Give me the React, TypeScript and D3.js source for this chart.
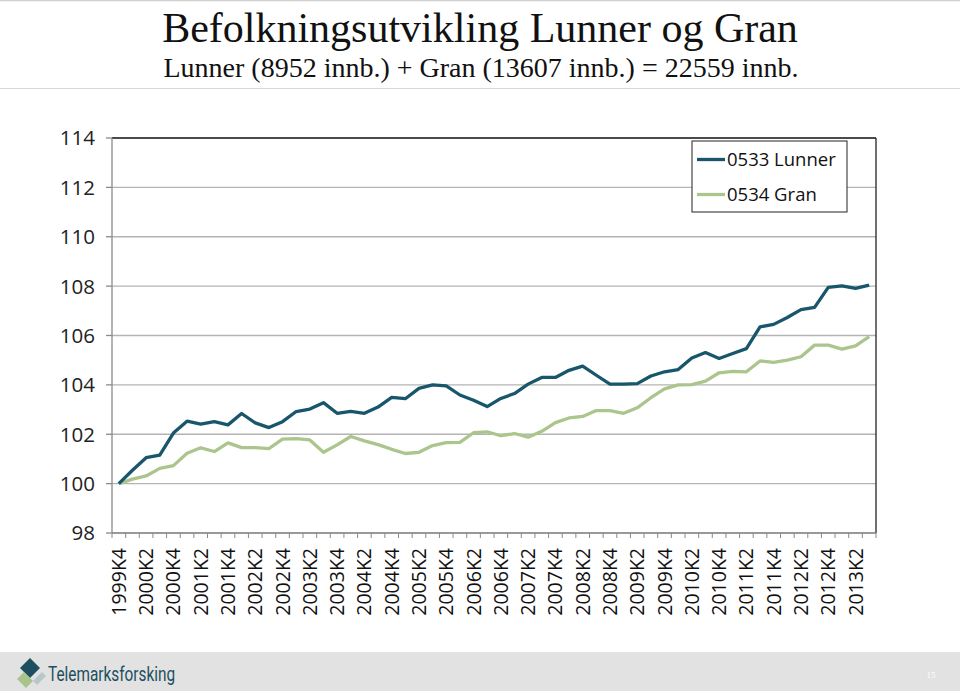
import React from "react";
import * as d3 from "d3";

const categories = [
  "1999K4","2000K1","2000K2","2000K3","2000K4","2001K1","2001K2","2001K3","2001K4",
  "2002K1","2002K2","2002K3","2002K4","2003K1","2003K2","2003K3","2003K4",
  "2004K1","2004K2","2004K3","2004K4","2005K1","2005K2","2005K3","2005K4",
  "2006K1","2006K2","2006K3","2006K4","2007K1","2007K2","2007K3","2007K4",
  "2008K1","2008K2","2008K3","2008K4","2009K1","2009K2","2009K3","2009K4",
  "2010K1","2010K2","2010K3","2010K4","2011K1","2011K2","2011K3","2011K4",
  "2012K1","2012K2","2012K3","2012K4","2013K1","2013K2","2013K3"
];

const lunner = [
  100, 100.54, 101.05, 101.15, 102.05, 102.53, 102.41, 102.51, 102.38, 102.84,
  102.46, 102.27, 102.51, 102.92, 103.02, 103.28, 102.85, 102.93, 102.85, 103.1,
  103.49, 103.44, 103.86, 104.0, 103.96, 103.59, 103.38, 103.12, 103.45, 103.65,
  104.03, 104.3, 104.3, 104.59, 104.76, 104.39, 104.03, 104.03, 104.05, 104.36,
  104.53, 104.62, 105.09, 105.31, 105.07, 105.27, 105.47, 106.35, 106.45, 106.73,
  107.05, 107.14, 107.95, 108.01, 107.91, 108.04
];

const gran = [
  100, 100.18, 100.31, 100.62, 100.73, 101.23, 101.45, 101.3, 101.65, 101.46,
  101.46, 101.42, 101.8, 101.82, 101.77, 101.27, 101.57, 101.91, 101.73, 101.58,
  101.39, 101.22, 101.27, 101.54, 101.66, 101.67, 102.06, 102.1, 101.94, 102.03,
  101.88, 102.12, 102.47, 102.66, 102.72, 102.96, 102.96, 102.85, 103.07, 103.48,
  103.84, 104.0, 104.01, 104.15, 104.49, 104.55, 104.53, 104.97, 104.91, 105.0,
  105.14, 105.61, 105.61, 105.45, 105.58, 105.95
];

const yTicks = [98, 100, 102, 104, 106, 108, 110, 112, 114];

const seriesNames = ["0533 Lunner", "0534 Gran"];
const seriesColors = ["#17566b", "#abc58d"];

const W = 960;
const H = 694;
const left = 112;
const right = 876;
const top = 138;
const bottom = 533;

export default function App() {
  const x = d3.scalePoint<string>().domain(categories).range([left, right]).padding(0.5);
  const step = x.step();
  const y = d3.scaleLinear().domain([98, 114]).range([bottom, top]);
  const line = d3
    .line<number>()
    .x((_, i) => x(categories[i]) as number)
    .y((d) => y(d));

  const labelCats = categories.filter((_, i) => i % 2 === 0);
  const tickXs = d3.range(categories.length + 1).map((i) => left + i * step);
  const sans = "'Open Sans', 'Liberation Sans', sans-serif";
  const serif = "'Liberation Serif', 'DejaVu Serif', serif";

  return (
    <svg
      width={W}
      height={H}
      style={{ position: "absolute", left: 0, top: 0, background: "#fff" }}
    >
      <rect x={0} y={0} width={W} height={H} fill="#fff" />
      <line x1={0} x2={W} y1={0.5} y2={0.5} stroke="#d0d0d0" strokeWidth={1.5} />
      <line x1={0} x2={W} y1={88.5} y2={88.5} stroke="#d8d8d8" strokeWidth={1.2} />
      <text x={480} y={42} textAnchor="middle" fontFamily={serif} fontSize={42} fill="#111">
        Befolkningsutvikling Lunner og Gran
      </text>
      <text x={481} y={77} textAnchor="middle" fontFamily={serif} fontSize={28} fill="#111">
        Lunner (8952 innb.) + Gran (13607 innb.) = 22559 innb.
      </text>

      {yTicks.map((t) => (
        <line key={t} x1={left} x2={right} y1={y(t)} y2={y(t)} stroke="#b4b4b4" strokeWidth={1.3} />
      ))}
      <line x1={left} x2={right} y1={top} y2={top} stroke="#222" strokeWidth={1.3} />
      <line x1={right} x2={right} y1={top} y2={bottom} stroke="#222" strokeWidth={1.3} />
      <line x1={left} x2={left} y1={top} y2={bottom} stroke="#8a8a8a" strokeWidth={1.3} />
      {yTicks.map((t) => (
        <line key={"yt" + t} x1={left - 6} x2={left} y1={y(t)} y2={y(t)} stroke="#8a8a8a" strokeWidth={1.3} />
      ))}
      {yTicks.map((t) => (
        <text key={"yl" + t} x={95} y={y(t)} dy="0.36em" textAnchor="end" fontFamily={sans} fontSize={20.5} fill="#222">
          {t}
        </text>
      ))}
      <line x1={left} x2={right} y1={bottom} y2={bottom} stroke="#8a8a8a" strokeWidth={1.3} />
      {tickXs.map((tx, i) => (
        <line key={"xt" + i} x1={tx} x2={tx} y1={bottom} y2={bottom + 5} stroke="#8a8a8a" strokeWidth={1} />
      ))}
      {labelCats.map((c) => (
        <text
          key={c}
          transform={`translate(${x(c)},548) rotate(-90)`}
          dy="0.36em"
          textAnchor="end"
          fontFamily={sans}
          fontSize={19.5}
          fill="#111"
        >
          {c}
        </text>
      ))}

      <path d={line(gran) || ""} fill="none" stroke={seriesColors[1]} strokeWidth={3.3} strokeLinejoin="round" />
      <path d={line(lunner) || ""} fill="none" stroke={seriesColors[0]} strokeWidth={3.3} strokeLinejoin="round" />

      <rect x={692} y={141} width={155} height={71} fill="#fff" stroke="#222" strokeWidth={1} />
      {seriesNames.map((n, i) => (
        <g key={n}>
          <line x1={697} x2={725} y1={159.5 + i * 35} y2={159.5 + i * 35} stroke={seriesColors[i]} strokeWidth={3.3} />
          <text x={727} y={159.5 + i * 35} dy="0.36em" fontFamily={sans} fontSize={18.5} fill="#111">
            {n}
          </text>
        </g>
      ))}

      <rect x={0} y={652} width={W} height={39} fill="#e2e2e2" />
      <g>
        <polygon points="30,658 40,668 30,678 20,668" fill="#1d4f60" />
        <polygon points="24,672 33,681 26,688 17,679" fill="#a8c48a" />
        <polygon points="33,681 42,672 46,676 37,685" fill="#b8c7cc" />
      </g>
      <text x={48} y={681} fontFamily="'Liberation Sans Narrow', 'Roboto', sans-serif" fontSize={21} fill="#1d4f60" textLength={127} lengthAdjust="spacingAndGlyphs">
        Telemarksforsking
      </text>
      <text x={931} y={678} textAnchor="middle" fontFamily={serif} fontSize={9} fill="#fff">
        15
      </text>
    </svg>
  );
}
